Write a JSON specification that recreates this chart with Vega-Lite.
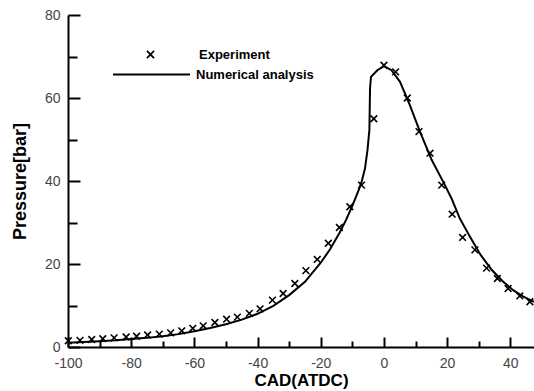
{
  "$schema": "https://vega.github.io/schema/vega-lite/v6.json",
  "autosize": "none",
  "width": 466,
  "height": 332,
  "padding": {"left": 68, "top": 15, "right": 0, "bottom": 44},
  "background": "white",
  "config": {
    "view": {"stroke": null},
    "font": "Liberation Sans",
    "axis": {
      "grid": false,
      "labelFlush": false,
      "labelOverlap": false,
      "domainColor": "black", "domainWidth": 2,
      "tickColor": "black", "tickWidth": 2,
      "labelFont": "Liberation Sans", "labelFontSize": 14, "labelColor": "#444",
      "titleFont": "Liberation Sans", "titleFontWeight": "bold", "titleColor": "black"
    }
  },
  "resolve": {"axis": {"x": "independent", "y": "independent"}},
  "datasets": {
    "num": [
      {"cad": -100, "p": 1.0}, {"cad": -95, "p": 1.2}, {"cad": -90, "p": 1.4},
      {"cad": -85, "p": 1.6}, {"cad": -80, "p": 1.9}, {"cad": -75, "p": 2.2},
      {"cad": -70, "p": 2.6}, {"cad": -65, "p": 3.1}, {"cad": -60, "p": 3.8},
      {"cad": -55, "p": 4.6}, {"cad": -50, "p": 5.5}, {"cad": -45, "p": 6.6},
      {"cad": -40, "p": 8.0}, {"cad": -35, "p": 9.9}, {"cad": -30, "p": 12.5},
      {"cad": -25, "p": 15.7}, {"cad": -20, "p": 20.3}, {"cad": -17, "p": 23.6},
      {"cad": -14, "p": 27.6}, {"cad": -12, "p": 30.6}, {"cad": -10, "p": 34.0},
      {"cad": -8, "p": 37.8}, {"cad": -7, "p": 40.0}, {"cad": -6, "p": 43.0},
      {"cad": -5.2, "p": 47.5}, {"cad": -4.6, "p": 52.3}, {"cad": -4.4, "p": 62.3},
      {"cad": -4.1, "p": 65.1}, {"cad": -2.1, "p": 66.7}, {"cad": 0, "p": 67.7},
      {"cad": 2.4, "p": 66.7}, {"cad": 5.1, "p": 63.9}, {"cad": 8.2, "p": 58.3},
      {"cad": 11.4, "p": 51.9}, {"cad": 15.1, "p": 45.1}, {"cad": 19.3, "p": 39.0},
      {"cad": 21.4, "p": 35.8}, {"cad": 24, "p": 31.0}, {"cad": 27.2, "p": 26.6},
      {"cad": 30.5, "p": 22.3}, {"cad": 34.1, "p": 18.6}, {"cad": 37.5, "p": 15.9},
      {"cad": 40.9, "p": 13.7}, {"cad": 44, "p": 12.2}, {"cad": 47.5, "p": 10.9}
    ],
    "exp": [
      {"cad": -99.9, "p": 1.5}, {"cad": -96.2, "p": 1.6}, {"cad": -92.5, "p": 1.8},
      {"cad": -89.0, "p": 2.0}, {"cad": -85.4, "p": 2.2}, {"cad": -81.6, "p": 2.4},
      {"cad": -78.3, "p": 2.6}, {"cad": -74.8, "p": 2.9}, {"cad": -71.1, "p": 3.1},
      {"cad": -67.5, "p": 3.4}, {"cad": -64.0, "p": 3.9}, {"cad": -60.5, "p": 4.5},
      {"cad": -57.2, "p": 5.1}, {"cad": -53.5, "p": 5.9}, {"cad": -49.8, "p": 6.7},
      {"cad": -46.4, "p": 7.2}, {"cad": -42.6, "p": 8.1}, {"cad": -39.2, "p": 9.2},
      {"cad": -35.3, "p": 11.3}, {"cad": -31.9, "p": 12.9}, {"cad": -28.2, "p": 15.3},
      {"cad": -24.7, "p": 18.4}, {"cad": -21.1, "p": 21.1}, {"cad": -17.6, "p": 25.0},
      {"cad": -14.1, "p": 28.8}, {"cad": -10.8, "p": 33.8}, {"cad": -7.1, "p": 39.0},
      {"cad": -3.2, "p": 55.0}, {"cad": 0, "p": 67.9}, {"cad": 3.7, "p": 66.3},
      {"cad": 7.4, "p": 60.0}, {"cad": 11.1, "p": 51.9}, {"cad": 14.6, "p": 46.7},
      {"cad": 18.3, "p": 39.0}, {"cad": 21.6, "p": 32.0}, {"cad": 24.9, "p": 26.4},
      {"cad": 28.8, "p": 23.4}, {"cad": 32.5, "p": 19.0}, {"cad": 35.9, "p": 16.5},
      {"cad": 39.3, "p": 14.1}, {"cad": 43.0, "p": 12.3}, {"cad": 46.2, "p": 10.9}
    ]
  },
  "layer": [
    {
      "data": {"name": "num"},
      "mark": {"type": "line", "strokeWidth": 2, "interpolate": "linear"},
      "encoding": {
        "x": {
          "field": "cad", "type": "quantitative",
          "scale": {"domain": [-100, 47.5], "nice": false, "zero": false},
          "axis": {
            "orient": "bottom",
            "title": "CAD(ATDC)",
            "values": [-100, -80, -60, -40, -20, 0, 20, 40],
            "labelExpr": "'' + datum.value",
            "tickSize": -10,
            "labelPadding": 19,
            "titleFontSize": 17,
            "titlePadding": 2
          }
        },
        "y": {
          "field": "p", "type": "quantitative",
          "scale": {"domain": [0, 80], "nice": false},
          "axis": {
            "orient": "left",
            "title": "Pressure[bar]",
            "values": [0, 20, 40, 60, 80],
            "tickSize": -12,
            "labelPadding": 20,
            "titleFontSize": 18,
            "titlePadding": 15
          }
        },
        "color": {
          "datum": "Numerical analysis",
          "scale": {"range": ["black"]},
          "legend": {
            "title": null, "orient": "none", "legendX": 44, "legendY": 20,
            "symbolType": "stroke", "symbolSize": 5929, "symbolStrokeWidth": 2,
            "labelOffset": 5, "labelFont": "Liberation Sans", "labelFontSize": 13,
            "labelFontWeight": "bold", "labelColor": "black"
          }
        }
      }
    },
    {
      "data": {"name": "exp"},
      "mark": {"type": "point", "filled": false, "stroke": "black", "strokeWidth": 1.6, "size": 45, "opacity": 1},
      "encoding": {
        "x": {
          "field": "cad", "type": "quantitative",
          "axis": {
            "orient": "bottom",
            "title": null, "labels": false, "domain": false,
            "values": [-90, -70, -50, -30, -10, 10, 30],
            "tickSize": -6
          }
        },
        "y": {
          "field": "p", "type": "quantitative",
          "axis": {
            "orient": "left",
            "title": null, "labels": false, "domain": false,
            "values": [10, 30, 50, 70],
            "tickSize": -9
          }
        },
        "shape": {
          "datum": "Experiment",
          "scale": {"range": ["M-1,-1L1,1M-1,1L1,-1"]},
          "legend": {
            "title": null, "orient": "none", "legendX": 76, "legendY": 33,
            "symbolSize": 50, "symbolStrokeColor": "black", "symbolStrokeWidth": 1.8,
            "symbolFillColor": "transparent",
            "labelOffset": 42, "labelFont": "Liberation Sans", "labelFontSize": 13,
            "labelFontWeight": "bold", "labelColor": "black"
          }
        }
      }
    },
    {
      "mark": {"type": "rule", "color": "black", "strokeWidth": 2},
      "encoding": {"y": {"datum": 80, "axis": null}}
    }
  ]
}
